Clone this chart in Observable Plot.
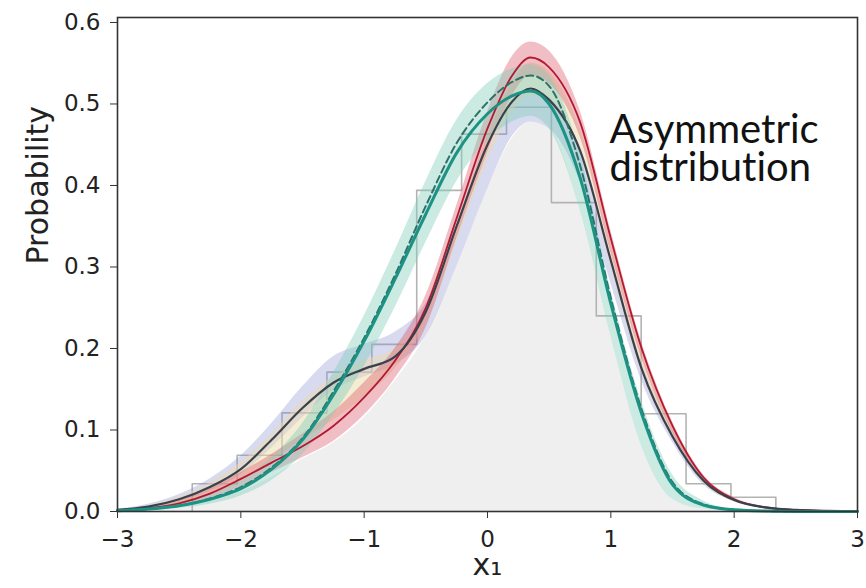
<!DOCTYPE html>
<html>
<head>
<meta charset="utf-8">
<script src="https://cdn.jsdelivr.net/npm/d3@7"></script>
<script src="https://cdn.jsdelivr.net/npm/@observablehq/plot@0.6"></script>
<style>
  html, body { margin: 0; padding: 0; background: #fff; }
  #chart svg { display: block; }
  #chart svg text { font-variant-ligatures: none; font-feature-settings: "liga" 0; }
</style>
</head>
<body>
<div id="chart"></div>
<script>
// ---- data ----
const xs = [-3, -2.75, -2.5, -2.25, -2, -1.75, -1.5, -1.25, -1, -0.75, -0.5, -0.25, 0, 0.2, 0.35, 0.5, 0.75, 1, 1.25, 1.5, 1.75, 2, 2.25, 2.5, 2.75, 3];

// grey smooth fill under everything
const fillCurve = [0.001, 0.002, 0.005, 0.012, 0.024, 0.042, 0.064, 0.084, 0.115, 0.16, 0.215, 0.3, 0.395, 0.458, 0.478, 0.47, 0.37, 0.215, 0.08, 0.015, 0.003, 0.001, 0, 0, 0, 0];

// blue band
const blueUpper = [0.003, 0.009, 0.021, 0.04, 0.068, 0.108, 0.153, 0.19, 0.205, 0.22, 0.255, 0.34, 0.44, 0.5, 0.515, 0.508, 0.445, 0.315, 0.185, 0.1, 0.042, 0.016, 0.006, 0.002, 0.001, 0];
const blueLower = [0.001, 0.004, 0.012, 0.025, 0.045, 0.078, 0.115, 0.148, 0.165, 0.18, 0.215, 0.3, 0.395, 0.46, 0.478, 0.47, 0.405, 0.28, 0.16, 0.085, 0.033, 0.012, 0.004, 0.001, 0, 0];

// beige middle band
const midUpper = [0.002, 0.007, 0.018, 0.035, 0.06, 0.095, 0.135, 0.165, 0.185, 0.2, 0.245, 0.35, 0.46, 0.525, 0.55, 0.54, 0.47, 0.33, 0.195, 0.105, 0.043, 0.016, 0.005, 0.002, 0.001, 0];
const midLower = [0.001, 0.003, 0.009, 0.02, 0.038, 0.062, 0.088, 0.112, 0.14, 0.175, 0.23, 0.33, 0.43, 0.49, 0.51, 0.5, 0.44, 0.3, 0.17, 0.09, 0.035, 0.012, 0.004, 0.001, 0, 0];

// red band and red line
const redUpper = [0.002, 0.006, 0.014, 0.028, 0.048, 0.07, 0.095, 0.122, 0.158, 0.2, 0.265, 0.375, 0.49, 0.558, 0.576, 0.565, 0.492, 0.345, 0.208, 0.11, 0.045, 0.017, 0.006, 0.002, 0.001, 0.0003];
const redLower = [0, 0.002, 0.007, 0.016, 0.03, 0.048, 0.066, 0.086, 0.118, 0.163, 0.225, 0.335, 0.44, 0.51, 0.535, 0.525, 0.46, 0.318, 0.188, 0.097, 0.037, 0.013, 0.004, 0.001, 0.0005, 0.0001];
const redLine = [0.001, 0.004, 0.01, 0.022, 0.04, 0.06, 0.08, 0.105, 0.14, 0.185, 0.25, 0.36, 0.47, 0.535, 0.557, 0.545, 0.478, 0.335, 0.2, 0.105, 0.042, 0.015, 0.005, 0.002, 0.0007, 0.0002];

// teal band, solid teal line, dashed teal line
const tealUpper = [0.002, 0.005, 0.011, 0.022, 0.038, 0.066, 0.108, 0.17, 0.24, 0.32, 0.405, 0.48, 0.525, 0.543, 0.548, 0.535, 0.44, 0.272, 0.135, 0.045, 0.013, 0.003, 0.001, 0, 0, 0];
const tealLower = [0, 0.001, 0.004, 0.009, 0.019, 0.038, 0.07, 0.118, 0.178, 0.25, 0.33, 0.405, 0.455, 0.478, 0.485, 0.47, 0.37, 0.215, 0.08, 0.015, 0.003, 0.001, 0, 0, 0, 0];
const tealLine = [0.001, 0.003, 0.007, 0.015, 0.028, 0.052, 0.088, 0.143, 0.209, 0.285, 0.365, 0.44, 0.488, 0.51, 0.516, 0.5, 0.41, 0.255, 0.12, 0.033, 0.008, 0.002, 0.0005, 0.0001, 0, 0];
const tealDashed = [0.001, 0.003, 0.007, 0.016, 0.03, 0.054, 0.09, 0.147, 0.213, 0.29, 0.375, 0.452, 0.502, 0.527, 0.535, 0.522, 0.425, 0.262, 0.125, 0.036, 0.009, 0.002, 0.0005, 0.0001, 0, 0];

// dark grey line
const darkLine = [0.002, 0.006, 0.015, 0.03, 0.052, 0.088, 0.127, 0.158, 0.175, 0.19, 0.245, 0.35, 0.45, 0.503, 0.519, 0.505, 0.443, 0.308, 0.175, 0.092, 0.038, 0.014, 0.005, 0.002, 0.0008, 0.0003];

// histogram (step outline)
const binEdges = [-2.394, -2.03, -1.666, -1.302, -0.938, -0.574, -0.21, 0.154, 0.518, 0.882, 1.246, 1.61, 1.974, 2.338];
const binHeights = [0.034, 0.069, 0.121, 0.171, 0.205, 0.394, 0.463, 0.496, 0.379, 0.24, 0.12, 0.034, 0.0175];

// ticks and labels
const xTicks = [-3, -2, -1, 0, 1, 2, 3];
const yTicks = [0, 0.1, 0.2, 0.3, 0.4, 0.5, 0.6];
const xLabel = "x\u2081";
const yLabel = "Probability";
const annotationLines = ["Asymmetric", "distribution"];
const annotationX = 0.99;
const annotationY = [0.452, 0.405];

// ---- build tables ----
const table = xs.map((x, i) => ({
  x,
  f: fillCurve[i],
  bu: blueUpper[i], bl: blueLower[i],
  mu: midUpper[i], ml: midLower[i],
  ru: redUpper[i], rl: redLower[i], r: redLine[i],
  tu: tealUpper[i], tl: tealLower[i], t: tealLine[i], td: tealDashed[i],
  d: darkLine[i]
}));

const steps = [{x: binEdges[0], y: 0}];
binHeights.forEach((h, i) => steps.push({x: binEdges[i], y: h}));
steps.push({x: binEdges[binEdges.length - 1], y: binHeights[binHeights.length - 1]});
steps.push({x: binEdges[binEdges.length - 1], y: 0});

const annotation = annotationLines.map((text, i) => ({text, x: annotationX, y: annotationY[i]}));

const curve = "monotone-x";
const tickFont = "DejaVu Sans, sans-serif";
const fmtX = d => (d < 0 ? "\u2212" : "") + Math.abs(d);

const chart = Plot.plot({
  width: 866,
  height: 588,
  marginLeft: 117,
  marginRight: 9,
  marginTop: 17,
  marginBottom: 77,
  style: {fontFamily: tickFont, background: "#fff", color: "#222"},
  x: {domain: [-3, 3]},
  y: {domain: [0, 0.6061]},
  marks: [
    Plot.areaY(table, {x: "x", y: "f", fill: "#efefef", curve}),
    Plot.line(steps, {x: "x", y: "y", stroke: "#b3b3b3", strokeWidth: 1.6, curve: "step-after"}),
    Plot.areaY(table, {x: "x", y1: "bl", y2: "bu", fill: "#8890d0", fillOpacity: 0.33, curve}),
    Plot.areaY(table, {x: "x", y1: "ml", y2: "mu", fill: "#ecd9aa", fillOpacity: 0.5, curve}),
    Plot.areaY(table, {x: "x", y1: "rl", y2: "ru", fill: "#d84a5e", fillOpacity: 0.36, curve}),
    Plot.areaY(table, {x: "x", y1: "tl", y2: "tu", fill: "#80ccbb", fillOpacity: 0.42, curve}),
    Plot.line(table, {x: "x", y: "r", stroke: "#b3192f", strokeWidth: 1.8, curve}),
    Plot.line(table, {x: "x", y: "d", stroke: "#3a404d", strokeWidth: 2.2, curve}),
    Plot.line(table, {x: "x", y: "td", stroke: "#2e7169", strokeWidth: 2, strokeDasharray: "7,4", curve}),
    Plot.line(table, {x: "x", y: "t", stroke: "#1b9283", strokeWidth: 3, curve}),
    Plot.frame({stroke: "#333", strokeWidth: 1.6}),
    Plot.axisX({ticks: xTicks, tickFormat: fmtX, tickSize: 7, tickPadding: 12, fontSize: 23, label: null, stroke: "#333"}),
    Plot.axisY({ticks: yTicks, tickFormat: d3.format(".1f"), tickSize: 7, tickPadding: 10, fontSize: 23, label: null, stroke: "#333"}),
    Plot.text([yLabel], {frameAnchor: "left", rotate: -90, dx: -79, fontSize: 30, fill: "#222", text: d => d}),
    Plot.text([xLabel], {frameAnchor: "bottom", dy: 63, fontSize: 30, fill: "#222", text: d => d}),
    Plot.text(annotation, {x: "x", y: "y", text: "text", textAnchor: "start", lineAnchor: "bottom", fontSize: 40, fontFamily: "Lato, sans-serif", fill: "#111"})
  ]
});
document.getElementById("chart").appendChild(chart);
</script>
</body>
</html>
